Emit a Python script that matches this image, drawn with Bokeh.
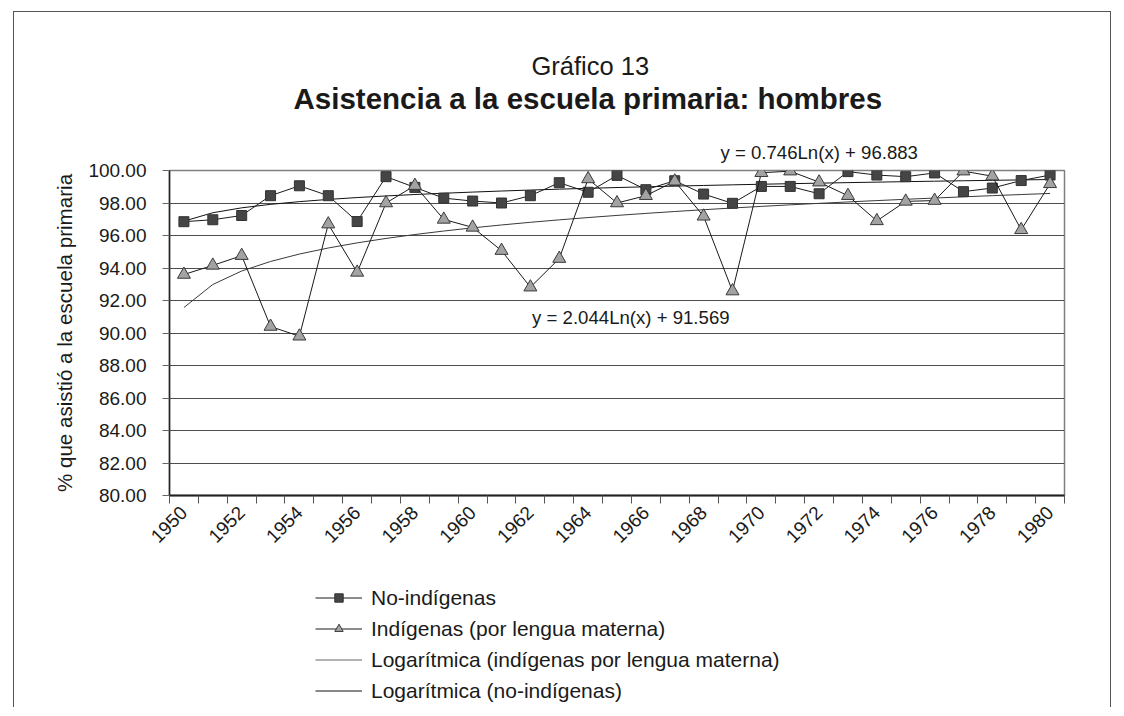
import math
import numpy as np
from bokeh.plotting import figure
from bokeh.layouts import column
from bokeh.models import (FixedTicker, NumeralTickFormatter, Label, Legend,
                          LegendItem, Range1d, Title)
from bokeh.embed import file_html
from bokeh.resources import INLINE

# ---------------- data ----------------
years = list(range(1950, 1981))
no_indigenas = [96.85, 96.97, 97.23, 98.45, 99.06, 98.45, 96.86, 99.62, 98.96, 98.30,
                98.12, 98.00, 98.45, 99.25, 98.66, 99.70, 98.82, 99.37, 98.55, 97.98,
                99.02, 99.02, 98.57, 99.93, 99.72, 99.62, 99.85, 98.70, 98.92, 99.38,
                99.72]
indigenas = [93.60, 94.16, 94.76, 90.40, 89.80, 96.70, 93.73, 98.00, 99.07, 96.99,
             96.50, 95.07, 92.82, 94.58, 99.48, 98.00, 98.45, 99.34, 97.18, 92.58,
             99.86, 99.96, 99.28, 98.45, 96.90, 98.10, 98.15, 99.96, 99.65, 96.35,
             99.18]
# logarithmic trend lines as printed on the chart: y = a*Ln(x) + b, x = 1..31
trend_no_ind = (0.746, 96.883)
trend_ind = (2.044, 91.569)
y_ticks = list(range(80, 101, 2))
title_1 = "Gráfico 13"
title_2 = "Asistencia a la escuela primaria: hombres"
y_title = "% que asistió a la escuela primaria"
eq_no_ind = "y = 0.746Ln(x) + 96.883"
eq_ind = "y = 2.044Ln(x) + 91.569"
legend_labels = ["No-indígenas", "Indígenas (por lengua materna)",
                 "Logarítmica (indígenas por lengua materna)",
                 "Logarítmica (no-indígenas)"]

idx = np.arange(1, len(years) + 1)
trend_ind_y = trend_ind[0] * np.log(idx) + trend_ind[1]
trend_no_y = trend_no_ind[0] * np.log(idx) + trend_no_ind[1]

FONT = "Liberation Sans"
TXT = "#1a1a1a"

# styles shared by plot and legend
SQ = dict(marker="square", size=10, fill_color="#454545", line_color="#333333")
TR = dict(marker="triangle", size=13, fill_color="#a3a3a3", line_color="#3a3a3a")
LN = dict(line_color="#1a1a1a", line_width=1)
T1 = dict(line_color="#3a3a3a", line_width=1)
T2 = dict(line_color="#111111", line_width=1)

p = figure(frame_width=895, frame_height=325, output_backend="svg",
           toolbar_location=None,
           x_range=Range1d(years[0] - 0.5, years[-1] + 0.5),
           y_range=Range1d(80, 100),
           min_border_left=155, min_border_right=46, min_border_top=0,
           min_border_bottom=0)
p.outline_line_color = "#808080"
p.outline_line_width = 1.5

# axes
p.xaxis.ticker = FixedTicker(ticks=years[::2],
                             minor_ticks=[y - 0.5 for y in years] + [years[-1] + 0.5])
p.xaxis.major_tick_out = 0
p.xaxis.major_tick_in = 0
p.xaxis.minor_tick_out = 8
p.xaxis.minor_tick_in = 0
p.xaxis.minor_tick_line_color = "#555555"
p.xaxis.axis_line_color = "#222222"
p.xaxis.axis_line_width = 2
p.xaxis.major_label_orientation = math.pi / 4
p.xaxis.major_label_standoff = 6
p.xaxis.major_label_text_font = FONT
p.xaxis.major_label_text_font_size = "19px"
p.xaxis.major_label_text_color = TXT

p.yaxis.ticker = FixedTicker(ticks=y_ticks)
p.yaxis.formatter = NumeralTickFormatter(format="0.00")
p.yaxis.major_tick_out = 7
p.yaxis.major_tick_in = 0
p.yaxis.minor_tick_line_color = None
p.yaxis.major_tick_line_color = "#666666"
p.yaxis.axis_line_color = "#222222"
p.yaxis.axis_line_width = 1.5
p.yaxis.major_label_standoff = 16
p.yaxis.major_label_text_font = FONT
p.yaxis.major_label_text_font_size = "19px"
p.yaxis.major_label_text_color = TXT
p.yaxis.axis_label = y_title
p.yaxis.axis_label_text_font = FONT
p.yaxis.axis_label_text_font_style = "normal"
p.yaxis.axis_label_text_font_size = "20.6px"
p.yaxis.axis_label_text_color = TXT
p.yaxis.axis_label_standoff = 9

p.xgrid.visible = False
p.ygrid.ticker = FixedTicker(ticks=y_ticks)
p.ygrid.grid_line_color = "#4d4d4d"
p.ygrid.grid_line_width = 1.2

# series
p.line(years, trend_ind_y, **T1)
p.line(years, trend_no_y, **T2)
p.line(years, no_indigenas, **LN)
p.scatter(years, no_indigenas, **SQ)
p.line(years, indigenas, **LN)
p.scatter(years, indigenas, **TR)

# equation inside the plot
p.add_layout(Label(x=1962.06, y=90.93, text=eq_ind,
                   text_font=FONT, text_font_size="18.6px", text_color=TXT,
                   text_baseline="middle", text_align="left"))

# texts above the plot (first added sits nearest the plot)
def above(text, size, style, offset, standoff):
    t = Title(text=text, align="left", offset=offset, standoff=standoff,
              text_font=FONT, text_font_size=size, text_font_style=style,
              text_color=TXT)
    p.add_layout(t, "above")

def spacer(h):
    t = Title(text=".", text_font_size="10px", standoff=h, text_color="white",
              align="left", offset=0)
    p.add_layout(t, "above")

above(eq_no_ind, "18.6px", "normal", 551, 16)
spacer(7)
above(title_2, "29.5px", "bold", 124, 0)
above(title_1, "25.5px", "normal", 362, 0)
spacer(26.5)

# legend panel underneath (its own small figure, no axes); its frame lines up
# with the plot frame above
lg = figure(width=1096, height=156, output_backend="svg", toolbar_location=None,
            x_axis_location=None, y_axis_location=None, min_border=0,
            x_range=Range1d(0, 1), y_range=Range1d(0, 1))
lg.outline_line_color = None
lg.xgrid.visible = False
lg.ygrid.visible = False
nan = [float("nan")]
r_l1 = lg.line(nan, nan, **LN)
r_s1 = lg.scatter(nan, nan, **SQ)
r_l2 = lg.line(nan, nan, **LN)
r_s2 = lg.scatter(nan, nan, **TR)
r_t1 = lg.line(nan, nan, line_color="#666666", line_width=1)
r_t2 = lg.line(nan, nan, **T2)
legend = Legend(items=[LegendItem(label=legend_labels[0], renderers=[r_l1, r_s1]),
                       LegendItem(label=legend_labels[1], renderers=[r_l2, r_s2]),
                       LegendItem(label=legend_labels[2], renderers=[r_t1]),
                       LegendItem(label=legend_labels[3], renderers=[r_t2])],
                location=(146, 4.5), orientation="vertical")
legend.border_line_alpha = 0
legend.background_fill_alpha = 0
legend.padding = 0
legend.margin = 0
legend.spacing = 7
legend.glyph_width = 47
legend.glyph_height = 21
legend.label_height = 21
legend.label_standoff = 9
legend.label_text_font = FONT
legend.label_text_font_size = "21px"
legend.label_text_color = TXT
lg.add_layout(legend, "center")

page = column(p, lg, spacing=0)
page.margin = (11, 0, 0, 13)
page.styles = {"border-left": "1px solid #555555", "border-top": "1px solid #555555",
               "border-right": "1px solid #555555"}

open("out.html", "w").write(file_html(page, INLINE))
